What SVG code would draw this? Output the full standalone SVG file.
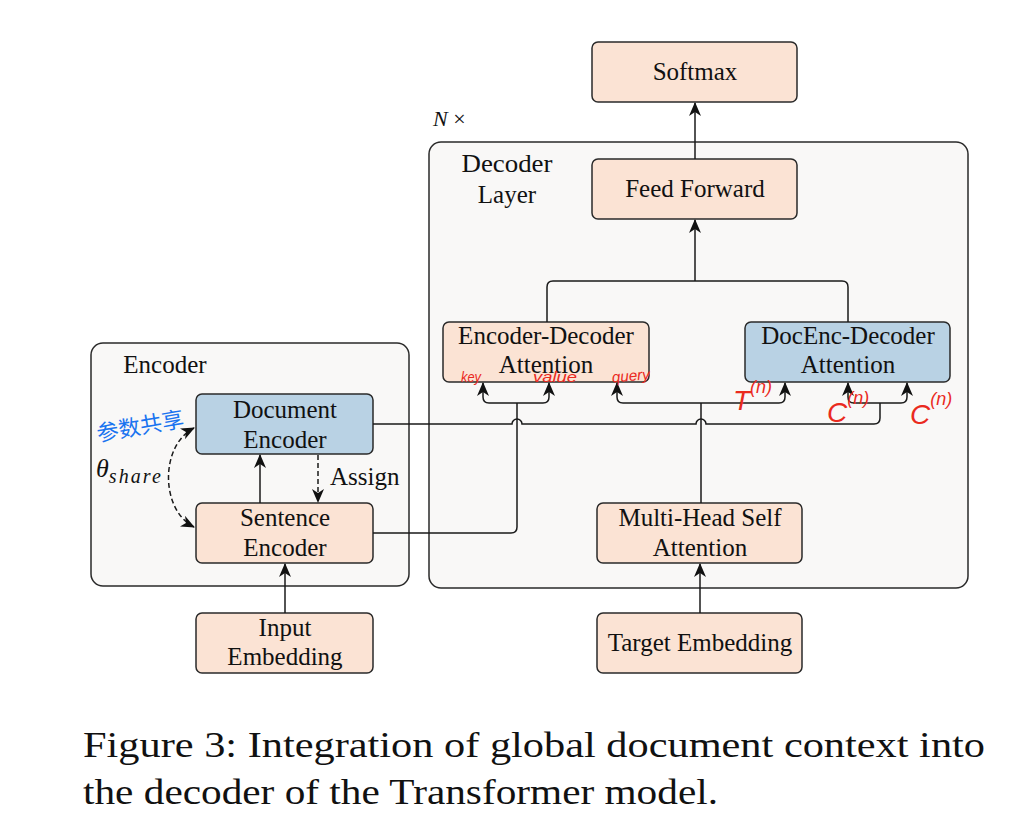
<svg xmlns="http://www.w3.org/2000/svg" width="1010" height="834" viewBox="0 0 1010 834">
<defs>
<marker id="ah" markerUnits="userSpaceOnUse" markerWidth="14" markerHeight="12" viewBox="0 0 14 12" refX="13" refY="6" orient="auto-start-reverse">
<path d="M0,0 L14,6 L0,12 L4,6 z" fill="#111"/>
</marker>
<style>
.ctn{fill:#f9f8f7;stroke:#2a2a2a;stroke-width:1.5}
.peach{fill:#fbe3d4;stroke:#2a2a2a;stroke-width:1.5}
.blue{fill:#b9d2e4;stroke:#2a2a2a;stroke-width:1.5}
.t{font-family:"Liberation Serif","Times New Roman",serif;font-size:25px;fill:#111;text-anchor:middle}
.c{fill:none;stroke:#1a1a1a;stroke-width:1.5}
.a{marker-end:url(#ah)}
.red{font-family:"Liberation Sans",sans-serif;font-style:italic;fill:#ea2a1e}
.cap{font-family:"Liberation Serif","Times New Roman",serif;font-size:36px;fill:#111}
</style>
</defs>
<rect width="1010" height="834" fill="#fff"/>

<g id="decoder-layer">
<rect class="ctn" x="429" y="142" width="539" height="446" rx="12"/>
<text class="t" x="507" y="172" textLength="91" lengthAdjust="spacingAndGlyphs">Decoder</text>
<text class="t" x="507" y="203">Layer</text>
</g>
<text x="433" y="126" font-family="Liberation Serif,serif" font-size="22" font-style="italic" fill="#111">N <tspan font-style="normal">×</tspan></text>

<g id="encoder">
<rect class="ctn" x="91" y="343" width="318" height="243" rx="12"/>
<text class="t" x="165" y="373">Encoder</text>
</g>

<g id="softmax"><rect class="peach" x="592" y="42" width="205" height="60" rx="6"/><text class="t" x="695" y="80">Softmax</text></g>
<g id="feed-forward"><rect class="peach" x="592" y="159" width="205" height="60" rx="6"/><text class="t" x="695" y="197">Feed Forward</text></g>
<g id="enc-dec-attn"><rect class="peach" x="443" y="322" width="206" height="60" rx="6"/><text class="t" x="546" y="344">Encoder-Decoder</text><text class="t" x="546" y="373">Attention</text></g>
<g id="docenc-dec-attn"><rect class="blue" x="745" y="322" width="205" height="60" rx="6"/><text class="t" x="848" y="344">DocEnc-Decoder</text><text class="t" x="848" y="373">Attention</text></g>
<g id="multi-head"><rect class="peach" x="597" y="503" width="205" height="60" rx="6"/><text class="t" x="700" y="526">Multi-Head Self</text><text class="t" x="700" y="556">Attention</text></g>
<g id="target-embedding"><rect class="peach" x="597" y="613" width="205" height="60" rx="6"/><text class="t" x="700" y="651">Target Embedding</text></g>
<g id="document-encoder"><rect class="blue" x="196" y="394" width="177" height="60" rx="6"/><text class="t" x="285" y="418">Document</text><text class="t" x="285" y="448">Encoder</text></g>
<g id="sentence-encoder"><rect class="peach" x="196" y="503" width="177" height="60" rx="6"/><text class="t" x="285" y="526">Sentence</text><text class="t" x="285" y="556">Encoder</text></g>
<g id="input-embedding"><rect class="peach" x="196" y="613" width="177" height="60" rx="6"/><text class="t" x="285" y="636">Input</text><text class="t" x="285" y="665">Embedding</text></g>

<g id="connectors">
<path class="c a" d="M695,159 V103"/>
<path class="c" d="M547,322 V287 Q547,281 553,281 H842 Q848,281 848,287 V322"/>
<path class="c a" d="M695,281 V220"/>
<path class="c a" d="M700,613 V564"/>
<path class="c" d="M701,503 V403"/>
<path class="c a" d="M701,403 H623 Q617,403 617,397 V383"/>
<path class="c a" d="M701,403 H779 Q785,403 785,397 V383"/>
<path class="c" d="M373,533 H511 Q517,533 517,527 V403"/>
<path class="c a" d="M517,403 H489 Q483,403 483,397 V383"/>
<path class="c a" d="M517,403 H543 Q549,403 549,397 V383"/>
<path class="c" d="M373,424 H512 A5,5 0 0 1 522,424 H696 A5,5 0 0 1 706,424 H874 Q880,424 880,418 V403"/>
<path class="c a" d="M880,403 H854 Q848,403 848,397 V383"/>
<path class="c a" d="M880,403 H901 Q907,403 907,397 V383"/>
<path class="c a" d="M260,503 V455"/>
<path class="c a" d="M318,455 V502" stroke-dasharray="5,3"/>
<path class="c a" d="M285,613 V564"/>
<path class="c" d="M194,428 C160,445 160,510 194,527" stroke-dasharray="5,3" marker-start="url(#ah)" marker-end="url(#ah)"/>
</g>

<text x="330" y="485" font-family="Liberation Serif,serif" font-size="25" fill="#111">Assign</text>
<text x="96" y="477" font-family="Liberation Serif,serif" font-size="26" font-style="italic" fill="#111">θ<tspan font-size="20" dy="6" textLength="52">share</tspan></text>

<text x="140" y="434" font-family="Noto Sans CJK SC,sans-serif" font-size="22" fill="#1a74f0" text-anchor="middle" transform="rotate(-10 140 425)">参数共享</text>

<text class="red" x="461" y="382" font-size="14" textLength="20" lengthAdjust="spacingAndGlyphs">key</text>
<text class="red" x="533" y="382" font-size="15" textLength="44" lengthAdjust="spacingAndGlyphs">value</text>
<text class="red" x="612" y="381" font-size="15" textLength="38" lengthAdjust="spacingAndGlyphs" transform="rotate(-5 630 378)">query</text>
<text class="red" x="733" y="410" font-size="28">T<tspan font-size="18" dy="-17">(n)</tspan></text>
<text class="red" x="827" y="422" font-size="28">C<tspan font-size="18" dy="-18">(n)</tspan></text>
<text class="red" x="910" y="424" font-size="28">C<tspan font-size="18" dy="-19">(n)</tspan></text>

<text class="cap" x="83" y="757" textLength="902" lengthAdjust="spacingAndGlyphs">Figure 3:  Integration of global document context into</text>
<text class="cap" x="83" y="804" textLength="635" lengthAdjust="spacingAndGlyphs">the decoder of the Transformer model.</text>
</svg>
